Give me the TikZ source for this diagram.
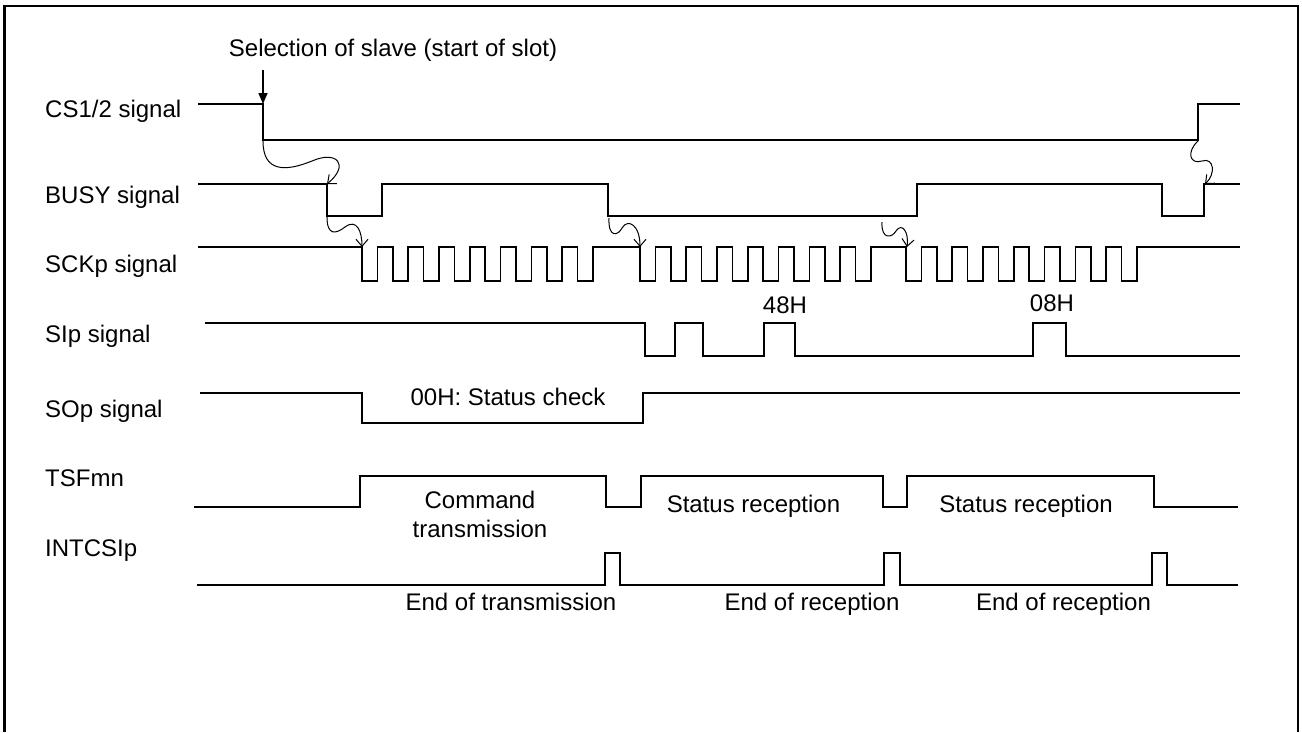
\documentclass[tikz,border=0pt]{standalone}
\usepackage{fontspec}
\setmainfont{Liberation Sans}
\usetikzlibrary{arrows.meta}
\begin{document}
\begin{tikzpicture}[x=1pt,y=-1pt,
  sig/.style={line width=1.5pt, line join=miter},
  frame/.style={line width=2.2pt},
  lbl/.style={anchor=base west, inner sep=0pt, font=\fontsize{24}{28}\selectfont},
  txt/.style={anchor=base, inner sep=0pt, font=\fontsize{24}{28}\selectfont},
  curv/.style={line width=1pt, -{Straight Barb[length=7pt,width=12pt]}},
  selarrow/.style={line width=1.5pt, -{Triangle[length=11pt,width=9pt]}},
]
\useasboundingbox (0,0) rectangle (1302,732);
\draw[frame] (4.5,732) -- (4.5,6) -- (1298,6) -- (1298,732);

% labels
\node[lbl] (lcs)   at (45,117.5) {CS1/2 signal};
\node[lbl] (lbusy) at (45,203.5) {BUSY signal};
\node[lbl] (lsck)  at (45,272.5) {SCKp signal};
\node[lbl] (lsi)   at (45,342.5) {SIp signal};
\node[lbl] (lso)   at (45,417.5) {SOp signal};
\node[lbl] (lts)   at (45,486.5) {TSFmn};
\node[lbl] (lint)  at (45,556.5) {INTCSIp};

% CS1/2
\draw[sig] (198,104) -- (263,104) -- (263,140) -- (1198,140) -- (1198,104) -- (1240,104);
% BUSY
\draw[sig] (198,184) -- (327,184) -- (327,216) -- (382,216) -- (382,184) -- (608,184) -- (608,216)
  -- (917,216) -- (917,184) -- (1162,184) -- (1162,216) -- (1204,216) -- (1204,184) -- (1240,184);
% SCKp
\draw[sig] (198,247)
  foreach \k in {0,...,7} { -- ({362+2*\k*15.4},247) -- ++(0,34) -- ++(15.4,0) -- ++(0,-34) }
  foreach \k in {0,...,7} { -- ({640+2*\k*15.4},247) -- ++(0,34) -- ++(15.4,0) -- ++(0,-34) }
  foreach \k in {0,...,7} { -- ({906+2*\k*15.4},247) -- ++(0,34) -- ++(15.4,0) -- ++(0,-34) }
  -- (1240,247);
% SIp
\draw[sig] (205,323) -- (645,323) -- (645,356) -- (675,356) -- (675,323) -- (703,323) -- (703,356)
  -- (764,356) -- (764,323) -- (795,323) -- (795,356) -- (1033,356) -- (1033,323) -- (1066,323)
  -- (1066,356) -- (1240,356);
% SOp
\draw[sig] (200,393) -- (362,393) -- (362,423) -- (643,423) -- (643,393) -- (1240,393);
% TSFmn
\draw[sig] (194,507) -- (360,507) -- (360,476) -- (606,476) -- (606,507) -- (641,507) -- (641,476)
  -- (883,476) -- (883,507) -- (907,507) -- (907,476) -- (1154,476) -- (1154,507) -- (1238,507);
% INTCSIp
\draw[sig] (197,585) -- (605,585) -- (605,553) -- (620,553) -- (620,585) -- (884,585) -- (884,553)
  -- (900,553) -- (900,585) -- (1152,585) -- (1152,553) -- (1167,553) -- (1167,585) -- (1238,585);

% texts
\node[txt] (sel) at (393,56) {Selection of slave (start of slot)};
\node[txt] (h48) at (785,313) {48H};
\node[txt] (h08) at (1052,311) {08H};
\node[txt] (so00) at (508,405) {00H: Status check};
\node[txt] (cmd1) at (480,508) {Command};
\node[txt] (cmd2) at (480,537) {transmission};
\node[txt] (sr1) at (753.5,512) {Status reception};
\node[txt] (sr2) at (1026,512) {Status reception};
\node[txt] (et) at (511,610) {End of transmission};
\node[txt] (er1) at (812,610) {End of reception};
\node[txt] (er2) at (1063.5,610) {End of reception};

% arrow points
\coordinate (selfrom) at (263,70);
\coordinate (selto) at (263,104);
\coordinate (csfall) at (263,141);
\coordinate (busyfall1) at (327,184);
\coordinate (busylow1) at (327,217);
\coordinate (sck1) at (362,247);
\coordinate (busylow2) at (609,218);
\coordinate (sck2) at (640,247);
\coordinate (busylow3) at (882,222);
\coordinate (sck3) at (907,247);
\coordinate (csrise) at (1198,141);
\coordinate (busyrise) at (1205,184);

\draw[selarrow] (selfrom) -- (selto);
\draw[curv] (csfall) .. controls (263,172) and (285,172) .. (312,161)
  .. controls (337,150) and (350,165) .. (busyfall1);
\draw[curv] (busylow1) .. controls (327,236) and (336,234) .. (345,227)
  .. controls (357,218) and (362,232) .. (sck1);
\draw[curv] (busylow2) .. controls (608,238) and (618,236) .. (622,228)
  .. controls (628,218) and (640,225) .. (sck2);
\draw[curv] (busylow3) .. controls (881,240) and (892,238) .. (896,231)
  .. controls (902,222) and (909,232) .. (sck3);
\draw[curv] (csrise) .. controls (1186,152) and (1190,165) .. (1202,161)
  .. controls (1214,157) and (1216,174) .. (busyrise);
\end{tikzpicture}
\end{document}
